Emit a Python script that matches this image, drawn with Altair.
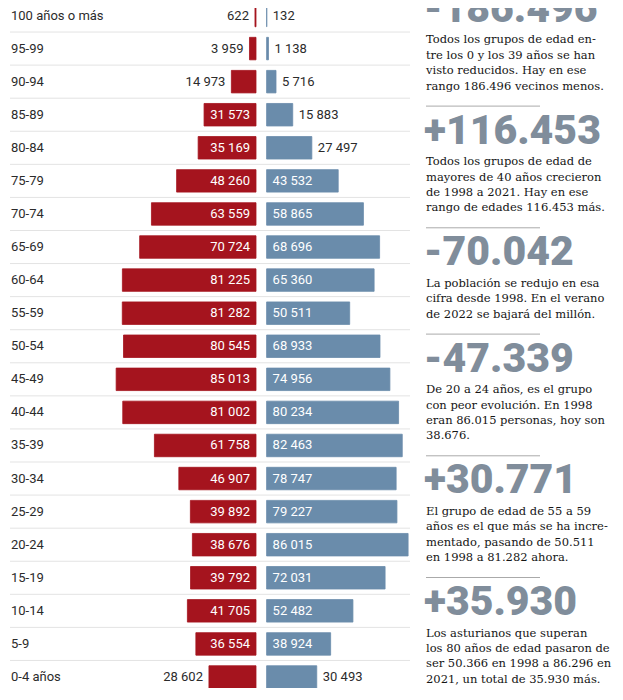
import altair as alt
import pandas as pd

# ---------------- data ----------------
ages = ["100 años o más", "95-99", "90-94", "85-89", "80-84", "75-79", "70-74",
        "65-69", "60-64", "55-59", "50-54", "45-49", "40-44", "35-39", "30-34",
        "25-29", "20-24", "15-19", "10-14", "5-9", "0-4 años"]
pop_2021 = [622, 3959, 14973, 31573, 35169, 48260, 63559, 70724, 81225, 81282,
            80545, 85013, 81002, 61758, 46907, 39892, 38676, 39792, 41705, 36554, 28602]
pop_1998 = [132, 1138, 5716, 15883, 27497, 43532, 58865, 68696, 65360, 50511,
            68933, 74956, 80234, 82463, 78747, 79227, 86015, 72031, 52482, 38924, 30493]

big_numbers = ["-186.496", "+116.453", "-70.042", "-47.339", "+30.771", "+35.930"]
paragraphs = [
    ["Todos los grupos de edad en-", "tre los 0 y los 39 años se han",
     "visto reducidos. Hay en ese", "rango 186.496 vecinos menos."],
    ["Todos los grupos de edad de", "mayores de 40 años crecieron",
     "de 1998 a 2021. Hay en ese", "rango de edades 116.453 más."],
    ["La población se redujo en esa", "cifra desde 1998. En el verano",
     "de 2022 se bajará del millón."],
    ["De 20 a 24 años, es el grupo", "con peor evolución. En 1998",
     "eran 86.015 personas, hoy son", "38.676."],
    ["El grupo de edad de 55 a 59", "años es el que más se ha incre-",
     "mentado, pasando de 50.511", "en 1998 a 81.282 ahora."],
    ["Los asturianos que superan", "los 80 años de edad pasaron de",
     "ser 50.366 en 1998 a 86.296 en", "2021, un total de 35.930 más."],
]

# ---------------- styles ----------------
RED = "#a5141e"
BLUE = "#6a8cab"
GREY_NUM = "#808d9b"
TEXT = "#2b2b2b"
INSIDE_MIN = 31000

W, H = 607, 680
CENTER = 253.3
K = 0.001645  # px per person
GAP = 5.3
xscale = alt.Scale(domain=[-CENTER / K, (W - CENTER) / K], nice=False, zero=False)

FIRST, LAST = 7.5, 669
STEP = (LAST - FIRST) / (len(ages) - 1)
Y0 = FIRST - STEP / 2
yscale = alt.Scale(domain=ages, range=[Y0, Y0 + STEP * len(ages)],
                   paddingInner=0.32, paddingOuter=0.16)

def fmt(v):
    return f"{v:,}".replace(",", " ")

left = pd.DataFrame({"age": ages, "v": pop_2021})
left["signed"] = -left["v"]
right = pd.DataFrame({"age": ages, "v": pop_1998})
right["signed"] = right["v"]
for d in (left, right):
    d["zero"] = 0
    d["label"] = [fmt(v) for v in d["v"]]
    d["inside"] = d["v"] >= INSIDE_MIN
    d["anchor"] = [0 if ins else s for ins, s in zip(d["inside"], d["signed"])]

ages_df = pd.DataFrame({"age": ages})

Y = alt.Y("age:N", scale=yscale, axis=None, sort=ages)
X = alt.X("signed:Q", scale=xscale, axis=None)

grid = alt.Chart(ages_df).mark_rule(color="#e3e3e3", strokeWidth=1, yOffset=STEP / 2).encode(
    y=Y, x=alt.value(2), x2=alt.value(402))

bars_l = alt.Chart(left).mark_bar(color=RED, stroke=RED, strokeWidth=0.8,
                                  xOffset=-GAP, x2Offset=-GAP).encode(y=Y, x=X, x2="zero:Q")
bars_r = alt.Chart(right).mark_bar(color=BLUE, stroke=BLUE, strokeWidth=0.8,
                                   xOffset=GAP, x2Offset=GAP).encode(y=Y, x=X, x2="zero:Q")

XA = alt.X("anchor:Q", scale=xscale, axis=None)
col = alt.condition("datum.inside", alt.value("white"), alt.value(TEXT))
lab_l = alt.Chart(left).mark_text(align="right", baseline="middle", dx=-(GAP + 6),
                                  font="Roboto", fontSize=13).encode(
    y=Y, x=XA, text="label:N", color=col)
lab_r = alt.Chart(right).mark_text(align="left", baseline="middle", dx=GAP + 6,
                                   font="Roboto", fontSize=13).encode(
    y=Y, x=XA, text="label:N", color=col)

row_labels = alt.Chart(ages_df).mark_text(align="left", baseline="middle", font="Roboto",
                                          fontSize=13, color=TEXT).encode(
    y=Y, x=alt.value(3), text="age:N")

layers = [grid, bars_l, bars_r, lab_l, lab_r, row_labels]

# ---------------- right column ----------------
one = pd.DataFrame({"k": [0]})
XR = 418
bb = 21.9 - 8  # baseline of first big number (chart coords)
for i, (num, para) in enumerate(zip(big_numbers, paragraphs)):
    layers.append(alt.Chart(one).mark_text(
        align="left", baseline="alphabetic", font="Roboto", fontWeight=900,
        fontSize=41, color=GREY_NUM, text=num).encode(x=alt.value(XR - 2), y=alt.value(bb)))
    y = bb + 18.5
    for j, line in enumerate(para):
        layers.append(alt.Chart(one).mark_text(
            align="left", baseline="middle", font="DejaVu Serif", fontSize=11.5,
            color="#151515", text=line).encode(x=alt.value(XR), y=alt.value(y)))
        if j < len(para) - 1:
            y += 15.4
    if i < len(big_numbers) - 1:
        sep = y + 19.5
        layers.append(alt.Chart(one).mark_rule(color="#aaaaaa", strokeWidth=1).encode(
            x=alt.value(XR), x2=alt.value(XR + 114), y=alt.value(sep)))
        bb = sep + 37.5

chart = alt.layer(*layers).properties(
    width=W, height=H, autosize=alt.AutoSizeParams(type="none"), padding=0
).configure_view(stroke=None)

chart.save("out.html", embed_options={"renderer": "svg", "actions": False})
